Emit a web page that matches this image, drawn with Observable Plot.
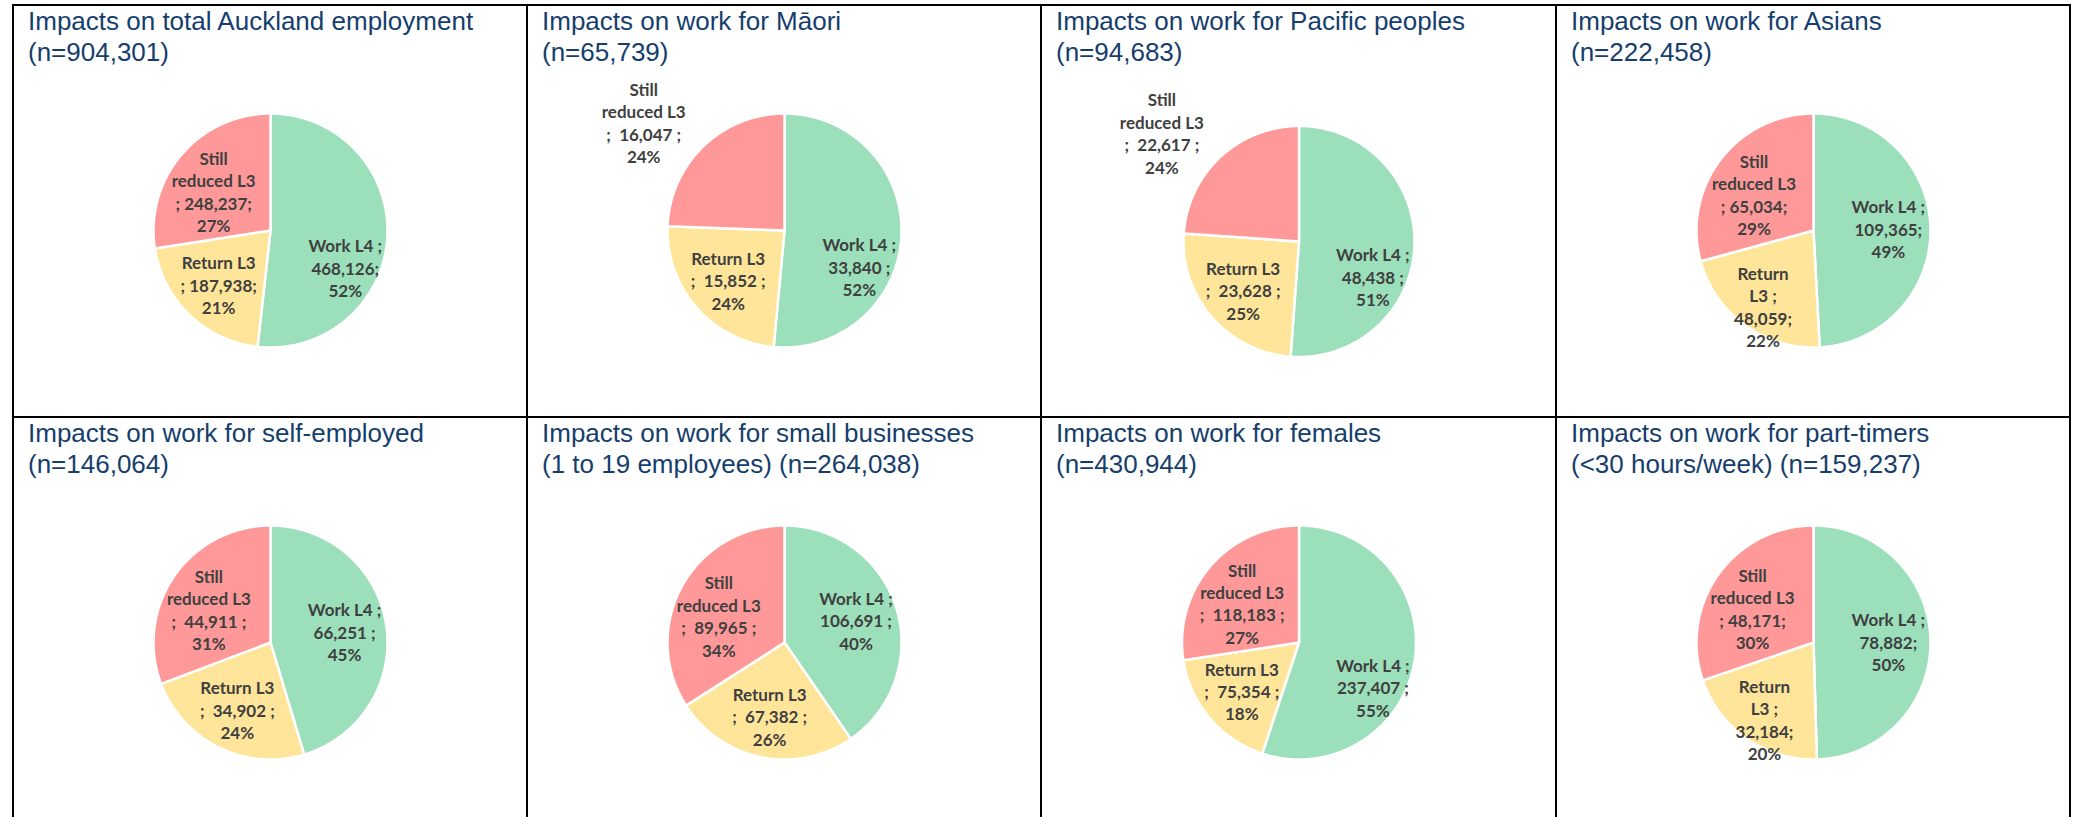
<!DOCTYPE html>
<html><head><meta charset="utf-8">
<script src="https://cdn.jsdelivr.net/npm/d3@7"></script>
<script src="https://cdn.jsdelivr.net/npm/@observablehq/plot@0.6"></script>
<style>
html,body{margin:0;padding:0;background:#fff;}
#root{position:relative;width:2078px;height:817px;overflow:hidden;background:#fff;}
.vline{position:absolute;top:4px;height:813px;width:2px;background:#000;}
.hline{position:absolute;height:2px;background:#000;}
.title{position:absolute;font-family:"Liberation Sans",Arial,sans-serif;font-size:26px;line-height:31px;color:#163E6C;white-space:pre;}
.pie{position:absolute;}
</style></head><body><div id="root"></div>
<script>
// ---- data ----
const titles = [
  "Impacts on total Auckland employment\n(n=904,301)",
  "Impacts on work for Māori\n(n=65,739)",
  "Impacts on work for Pacific peoples\n(n=94,683)",
  "Impacts on work for Asians\n(n=222,458)",
  "Impacts on work for self-employed\n(n=146,064)",
  "Impacts on work for small businesses\n(1 to 19 employees) (n=264,038)",
  "Impacts on work for females\n(n=430,944)",
  "Impacts on work for part-timers\n(<30 hours/week) (n=159,237)"
];
const categories = ["Work L4", "Return L3", "Still reduced L3"];
const categoryColors = ["#9BDFBB", "#FFE599", "#FF9999"];
const workL4 = [468126, 33840, 48438, 109365, 66251, 106691, 237407, 78882];
const returnL3 = [187938, 15852, 23628, 48059, 34902, 67382, 75354, 32184];
const stillReducedL3 = [248237, 16047, 22617, 65034, 44911, 89965, 118183, 48171];
const workLabels = [
  "Work L4 ;\n468,126;\n52%",
  "Work L4 ;\n33,840 ;\n52%",
  "Work L4 ;\n48,438 ;\n51%",
  "Work L4 ;\n109,365;\n49%",
  "Work L4 ;\n66,251 ;\n45%",
  "Work L4 ;\n106,691 ;\n40%",
  "Work L4 ;\n237,407 ;\n55%",
  "Work L4 ;\n78,882;\n50%"
];
const returnLabels = [
  "Return L3\n; 187,938;\n21%",
  "Return L3\n;  15,852 ;\n24%",
  "Return L3\n;  23,628 ;\n25%",
  "Return\nL3 ;\n48,059;\n22%",
  "Return L3\n;  34,902 ;\n24%",
  "Return L3\n;  67,382 ;\n26%",
  "Return L3\n;  75,354 ;\n18%",
  "Return\nL3 ;\n32,184;\n20%"
];
const stillLabels = [
  "Still\nreduced L3\n; 248,237;\n27%",
  "Still\nreduced L3\n;  16,047 ;\n24%",
  "Still\nreduced L3\n;  22,617 ;\n24%",
  "Still\nreduced L3\n; 65,034;\n29%",
  "Still\nreduced L3\n;  44,911 ;\n31%",
  "Still\nreduced L3\n;  89,965 ;\n34%",
  "Still\nreduced L3\n;  118,183 ;\n27%",
  "Still\nreduced L3\n; 48,171;\n30%"
];
const stillLabelOutside = [false, true, true, false, false, false, false, false];

// ---- layout ----
const colX = [13, 527, 1041, 1556, 2070];
const rowY = [5, 417];
const pieShiftY = [0, 0, 11, 0, 0, 0, 0, 0];
const pieRadius = [117, 117, 115.5, 117, 117, 117, 117, 117];
const root = document.getElementById("root");

function piePanel(i, w, h) {
  const R = pieRadius[i], cx = w / 2, cy = 155 + pieShiftY[i];
  const vals = [workL4[i], returnL3[i], stillReducedL3[i]];
  const labelSets = [workLabels, returnLabels, stillLabels];
  const arcs = d3.pie().sort(null)(vals);
  const pts = [];
  arcs.forEach((a, k) => {
    pts.push({cat: categories[k], x: 0, y: 0});
    const span = a.endAngle - a.startAngle;
    const n = Math.max(2, Math.ceil(span / (Math.PI / 360)));
    for (let j = 0; j <= n; j++) {
      const t = a.startAngle + span * j / n;
      pts.push({cat: categories[k], x: R * Math.sin(t), y: -R * Math.cos(t)});
    }
  });
  const inside = [], outside = [];
  arcs.forEach((a, k) => {
    const m = (a.startAngle + a.endAngle) / 2;
    const span = a.endAngle - a.startAngle;
    const out = k === 2 && stillLabelOutside[i];
    const rr = out ? 1.5 * R : 0.64 * R;
    const text = labelSets[k][i];
    const nLines = text.split("\n").length;
    let x = rr * Math.sin(m), y = -rr * Math.cos(m);
    if (!out && span > Math.PI) y += 0.28 * R;          // Excel best-fit pushes large-slice labels lower
    if (!out && nLines === 4 && k === 1) { x *= 1.15; y *= 1.25; }
    if (!out && k === 2) y += 0.08 * R;
    (out ? outside : inside).push({text, x, y});
  });
  const textStyle = {x: "x", y: "y", text: "text", fontSize: 17, fontWeight: "bold", fill: "#404040", fontFamily: "Lato", lineHeight: 1.32};
  return Plot.plot({
    width: w, height: h, margin: 0,
    x: {domain: [-cx, w - cx], range: [0, w], axis: null},
    y: {domain: [-cy, h - cy], range: [0, h], axis: null},
    color: {domain: categories, range: categoryColors},
    style: {background: "transparent", overflow: "visible"},
    marks: [
      Plot.line(pts, {x: "x", y: "y", z: "cat", fill: "cat", stroke: "white", strokeWidth: 2.5, curve: "linear-closed"}),
      Plot.text(inside, textStyle),
      Plot.text(outside, {...textStyle, dx: -19, dy: 18})
    ]
  });
}

titles.forEach((t, i) => {
  const c = i % 4, r = Math.floor(i / 4);
  const w = colX[c + 1] - colX[c];
  const title = document.createElement("div");
  title.className = "title";
  title.textContent = t;
  title.style.left = (colX[c] + 15) + "px";
  title.style.top = (rowY[r] + 0.5) + "px";
  const svg = piePanel(i, w, 340);
  const holder = document.createElement("div");
  holder.className = "pie";
  holder.style.left = colX[c] + "px";
  holder.style.top = (rowY[r] + 70) + "px";
  holder.appendChild(svg);
  root.appendChild(holder);
  root.appendChild(title);
});

// grid lines
colX.forEach(x => {
  const d = document.createElement("div");
  d.className = "vline";
  d.style.left = (x - 1) + "px";
  root.appendChild(d);
});
rowY.forEach(y => {
  const d = document.createElement("div");
  d.className = "hline";
  d.style.left = (colX[0] - 1) + "px";
  d.style.width = (colX[4] - colX[0] + 2) + "px";
  d.style.top = (y - 1) + "px";
  root.appendChild(d);
});
</script>
</body></html>
